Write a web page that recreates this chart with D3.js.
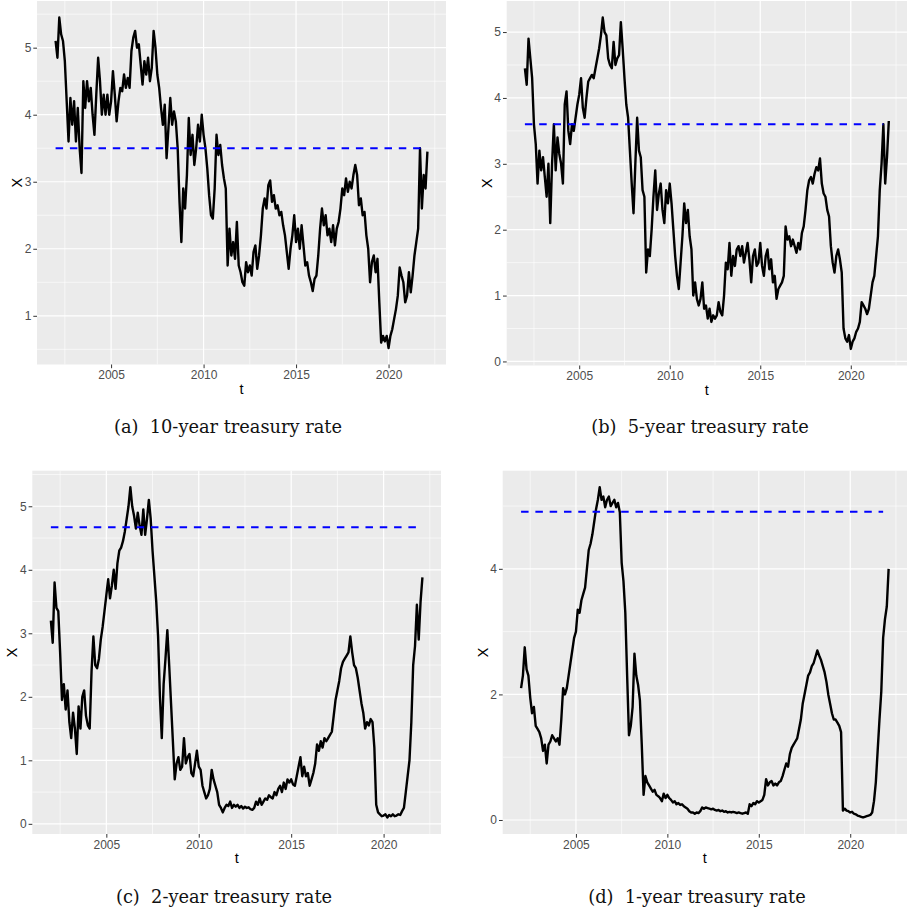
<!DOCTYPE html>
<html>
<head>
<meta charset="utf-8">
<script src="https://cdn.jsdelivr.net/npm/d3@7"></script>
<style>
  body { margin: 0; background: #fff; }
  .tick-label { font-family: "Liberation Sans", Arial, sans-serif; font-size: 12px; fill: #4d4d4d; }
  .axis-title { font-family: "Liberation Sans", Arial, sans-serif; font-size: 14.5px; fill: #000; }
  .caption { font-family: "DejaVu Serif", "Liberation Serif", serif; font-size: 17.8px; fill: #111; white-space: pre; }
</style>
</head>
<body>
<script>
// observation times: one sample every 0.1 year, 2002.0 .. 2022.1
const times = d3.range(0, 202).map(i => 2002 + i / 10);

const xTicks = [2005, 2010, 2015, 2020];
const xMinor = [2002.5, 2007.5, 2012.5, 2017.5, 2022.5];

const rate10 = [
  5.1, 4.85, 5.45, 5.2, 5.1, 4.8, 4.2, 3.6, 4.25, 3.85,
  4.2, 3.6, 4.1, 3.5, 3.13, 4.5, 4.1, 4.5, 4.2, 4.4,
  4.0, 3.7, 4.3, 4.85, 4.5, 4.0, 4.3, 4.0, 4.3, 4.0,
  4.2, 4.65, 4.3, 3.9, 4.2, 4.4, 4.35, 4.6, 4.4, 4.55,
  4.4, 4.95, 5.15, 5.25, 5.0, 5.05, 4.75, 4.45, 4.8, 4.6,
  4.85, 4.5, 4.7, 5.25, 5.0, 4.6, 4.4, 4.1, 3.85, 4.15,
  3.35, 3.8, 4.25, 3.85, 4.05, 3.9, 3.5, 2.7, 2.1, 2.9,
  2.6, 3.1, 3.95, 3.4, 3.7, 3.25, 3.5, 3.85, 3.6, 4.0,
  3.7, 3.5, 3.2, 2.8, 2.5, 2.45, 2.9, 3.7, 3.4, 3.55,
  3.25, 3.05, 2.9, 1.75, 2.3, 1.9, 2.1, 1.85, 2.4, 1.75,
  1.65, 1.5, 1.45, 1.8, 1.65, 1.75, 1.6, 1.95, 2.05, 1.7,
  1.9, 2.2, 2.6, 2.75, 2.6, 2.95, 3.02, 2.7, 2.8, 2.6,
  2.65, 2.5, 2.55, 2.35, 2.2, 1.95, 1.7, 2.0, 2.2, 2.5,
  2.1, 2.3, 2.0, 2.35, 2.05, 1.75, 1.8, 1.6, 1.5, 1.37,
  1.55, 1.6, 1.9, 2.3, 2.6, 2.35, 2.5, 2.2, 2.3, 2.1,
  2.35, 2.05, 2.3, 2.4, 2.6, 2.9, 2.8, 3.05, 2.85, 3.0,
  2.9, 3.1, 3.25, 3.1, 2.65, 2.75, 2.5, 2.55, 2.2, 2.0,
  1.5, 1.8, 1.9, 1.65, 1.85, 1.2, 0.6, 0.7, 0.62, 0.7,
  0.52, 0.7, 0.8, 0.95, 1.1, 1.3, 1.72, 1.6, 1.5, 1.2,
  1.3, 1.65, 1.35, 1.6, 1.9, 2.1, 2.3, 3.5, 2.6, 3.1,
  2.9, 3.45
];

const rate5 = [
  4.45, 4.2, 4.9, 4.6, 4.3, 3.6, 3.3, 2.7, 3.2, 2.9,
  3.1, 2.8, 2.5, 3.0, 2.1, 3.0, 3.6, 2.9, 3.4, 3.15,
  3.0, 2.7, 3.9, 4.1, 3.5, 3.3, 3.6, 3.5, 3.7, 3.9,
  4.05, 4.3, 3.85, 3.7, 4.0, 4.25, 4.3, 4.35, 4.3, 4.45,
  4.6, 4.75, 4.95, 5.22, 5.0, 4.95, 4.6, 4.5, 4.45, 4.85,
  4.5, 4.6, 4.65, 5.15, 4.75, 4.3, 3.9, 3.7, 3.2, 2.7,
  2.25, 3.0, 3.7, 3.2, 3.1, 2.6, 2.5, 1.35, 1.7, 1.6,
  2.0, 2.5, 2.9, 2.3, 2.55, 2.7, 2.3, 2.1, 2.6, 2.4,
  2.7, 2.4, 2.0, 1.6, 1.3, 1.1, 1.5, 1.9, 2.4, 2.1,
  2.3, 1.9, 1.7, 1.0, 1.2, 0.95, 0.85, 0.95, 1.2, 0.8,
  0.85, 0.65, 0.8, 0.6, 0.7, 0.65, 0.7, 0.9, 0.75, 0.7,
  1.0, 1.5, 1.4, 1.8, 1.3, 1.6, 1.45, 1.7, 1.75, 1.6,
  1.75, 1.5, 1.65, 1.8, 1.55, 1.2, 1.6, 1.7, 1.45, 1.5,
  1.8, 1.45, 1.3, 1.6, 1.7, 1.4, 1.55, 1.2, 1.3, 0.95,
  1.1, 1.15, 1.2, 1.3, 2.05, 1.85, 1.9, 1.75, 1.85, 1.75,
  1.65, 1.8, 1.7, 1.95, 2.05, 2.3, 2.6, 2.75, 2.8, 2.7,
  2.85, 2.95, 2.9, 3.08, 2.7, 2.55, 2.5, 2.3, 2.2, 1.75,
  1.5, 1.35, 1.6, 1.7, 1.55, 1.35, 0.5, 0.35, 0.3, 0.4,
  0.19, 0.3, 0.35, 0.45, 0.5, 0.6, 0.9, 0.85, 0.8, 0.72,
  0.8, 1.0, 1.2, 1.3, 1.6, 1.9, 2.6, 3.0, 3.6, 2.7,
  3.1, 3.65
];

const rate2 = [
  3.2, 2.85, 3.8, 3.4, 3.35, 2.7, 1.95, 2.2, 1.8, 2.1,
  1.6, 1.35, 1.75, 1.5, 1.1, 1.85, 1.5, 2.0, 2.1, 1.7,
  1.55, 1.5, 2.4, 2.95, 2.5, 2.45, 2.6, 2.9, 3.1, 3.35,
  3.6, 3.85, 3.55, 3.75, 4.0, 3.7, 4.1, 4.3, 4.35, 4.45,
  4.6, 4.8, 5.0, 5.3, 5.0, 4.85, 4.65, 4.9, 4.7, 4.55,
  4.95, 4.55, 4.8, 5.1, 4.8, 4.3, 3.9, 3.5, 2.95, 2.0,
  1.35, 2.2, 2.6, 3.05, 2.5, 1.9, 1.3, 0.7, 0.95, 1.05,
  0.85, 0.9, 1.35, 0.95, 1.05, 1.1, 0.8, 0.75, 0.95, 1.15,
  0.9, 0.85, 0.6, 0.5, 0.4, 0.45, 0.55, 0.85, 0.7, 0.6,
  0.5, 0.3, 0.25, 0.18, 0.25, 0.3, 0.28, 0.35, 0.25, 0.3,
  0.27, 0.3, 0.25, 0.28, 0.24, 0.27, 0.25, 0.26, 0.23, 0.22,
  0.25, 0.35, 0.3, 0.4, 0.3, 0.35, 0.4, 0.38, 0.45, 0.42,
  0.4, 0.5, 0.45, 0.55, 0.6, 0.5, 0.65, 0.55, 0.7, 0.65,
  0.7, 0.62, 0.6, 0.75, 0.9, 1.05, 0.75, 0.9, 0.75, 0.8,
  0.6, 0.7, 0.8, 0.95, 1.25, 1.15, 1.3, 1.2, 1.35, 1.3,
  1.35, 1.4, 1.45, 1.7, 1.95, 2.1, 2.25, 2.45, 2.55, 2.6,
  2.65, 2.7, 2.95, 2.7, 2.5, 2.45, 2.3, 2.1, 1.9, 1.75,
  1.5, 1.6, 1.55, 1.65, 1.6, 1.2, 0.3, 0.18, 0.15, 0.12,
  0.13, 0.15, 0.1, 0.14, 0.12, 0.15, 0.12, 0.13, 0.15, 0.14,
  0.2, 0.25, 0.5, 0.75, 1.0, 1.6, 2.5, 2.8, 3.45, 2.9,
  3.5, 3.88
];

const rate1 = [
  2.1, 2.3, 2.75, 2.4, 2.3, 1.95, 1.7, 1.8, 1.5, 1.45,
  1.4, 1.3, 1.1, 1.2, 0.9, 1.2, 1.25, 1.35, 1.3, 1.25,
  1.3, 1.2, 1.6, 2.1, 2.0, 2.1, 2.3, 2.5, 2.7, 2.9,
  3.0, 3.35, 3.3, 3.5, 3.6, 3.7, 4.0, 4.3, 4.4, 4.55,
  4.75, 4.95, 5.1, 5.3, 5.1, 5.15, 4.98, 5.1, 5.15, 5.0,
  5.05, 5.1, 4.98, 5.05, 4.9, 4.1, 3.8, 3.3, 2.3, 1.35,
  1.5, 1.8, 2.65, 2.3, 2.15, 1.9, 1.2, 0.4, 0.7, 0.6,
  0.55, 0.5, 0.45, 0.48, 0.4, 0.38, 0.35, 0.3, 0.42, 0.35,
  0.4, 0.35, 0.32, 0.28, 0.3, 0.25, 0.27, 0.24, 0.25, 0.22,
  0.2, 0.18, 0.14, 0.12, 0.12, 0.1, 0.12, 0.11, 0.14, 0.2,
  0.18, 0.2, 0.19, 0.18, 0.17, 0.18, 0.16, 0.15, 0.16, 0.14,
  0.15, 0.13, 0.14, 0.12, 0.13, 0.12, 0.13, 0.12, 0.11, 0.12,
  0.11, 0.1, 0.11, 0.12, 0.1, 0.25, 0.22, 0.27, 0.25, 0.3,
  0.28, 0.3, 0.32, 0.4, 0.65, 0.55, 0.6, 0.62, 0.55, 0.58,
  0.55, 0.6, 0.62, 0.7, 0.8, 0.9, 0.85, 1.05, 1.15, 1.2,
  1.25, 1.3, 1.45, 1.6, 1.85, 2.0, 2.15, 2.3, 2.35, 2.45,
  2.5, 2.6, 2.7, 2.62, 2.55, 2.45, 2.35, 2.2, 2.0, 1.85,
  1.7, 1.6, 1.6, 1.55, 1.5, 1.4, 0.15, 0.18, 0.15, 0.14,
  0.12, 0.13, 0.1, 0.09, 0.07, 0.06, 0.05, 0.04, 0.05, 0.06,
  0.07, 0.08, 0.12, 0.3, 0.6, 1.1, 1.6, 2.05, 2.9, 3.2,
  3.4, 4.0
];

const captions = ["(a)  10-year treasury rate", "(b)  5-year treasury rate",
                  "(c)  2-year treasury rate", "(d)  1-year treasury rate"];
const thresholds = [3.5, 3.6, 4.67, 4.91];
const thresholdSpan = [2002, 2021.8];
const yTicks = [[1, 2, 3, 4, 5], [0, 1, 2, 3, 4, 5], [0, 1, 2, 3, 4, 5], [0, 2, 4]];
const yMinor = [[0.5, 1.5, 2.5, 3.5, 4.5, 5.5], [0.5, 1.5, 2.5, 3.5, 4.5], [0.5, 1.5, 2.5, 3.5, 4.5, 5.5], [1, 3, 5]];

const width = 908;
const height = 914;

const svg = d3.select("body")
  .append("svg")
  .attr("width", width)
  .attr("height", height);

// panel boxes: left, top, right, bottom and caption position
const panels = [
  { left: 37, top: 1, right: 446, bottom: 364.5, capX: 228, capY: 433 },
  { left: 506.7, top: 1, right: 907, bottom: 365.5, capX: 700, capY: 433 },
  { left: 32.3, top: 470.7, right: 441, bottom: 834, capX: 224, capY: 903 },
  { left: 502.7, top: 470.7, right: 907, bottom: 834, capX: 697, capY: 903 }
];
const series = [rate10, rate5, rate2, rate1];

function expand(ext, f) {
  const pad = (ext[1] - ext[0]) * f;
  return [ext[0] - pad, ext[1] + pad];
}

panels.forEach((p, k) => {
  const values = series[k];
  const pts = times.map((t, i) => [t, values[i]]);

  const x = d3.scaleLinear().domain(expand(d3.extent(times), 0.05)).range([p.left, p.right]);
  const y = d3.scaleLinear().domain(expand(d3.extent(values), 0.05)).range([p.bottom, p.top]);

  const g = svg.append("g");

  g.append("rect")
    .attr("x", p.left).attr("y", p.top)
    .attr("width", p.right - p.left).attr("height", p.bottom - p.top)
    .attr("fill", "#ebebeb");

  // minor grid
  g.selectAll(".minor-x").data(xMinor.filter(d => x(d) < p.right)).enter()
    .append("line")
    .attr("x1", d => x(d)).attr("x2", d => x(d))
    .attr("y1", p.top).attr("y2", p.bottom)
    .attr("stroke", "#fff").attr("stroke-width", 0.6);
  g.selectAll(".minor-y").data(yMinor[k].filter(d => y(d) > p.top)).enter()
    .append("line")
    .attr("x1", p.left).attr("x2", p.right)
    .attr("y1", d => y(d)).attr("y2", d => y(d))
    .attr("stroke", "#fff").attr("stroke-width", 0.6);

  // major grid
  g.selectAll(".major-x").data(xTicks).enter()
    .append("line")
    .attr("x1", d => x(d)).attr("x2", d => x(d))
    .attr("y1", p.top).attr("y2", p.bottom)
    .attr("stroke", "#fff").attr("stroke-width", 1.2);
  g.selectAll(".major-y").data(yTicks[k]).enter()
    .append("line")
    .attr("x1", p.left).attr("x2", p.right)
    .attr("y1", d => y(d)).attr("y2", d => y(d))
    .attr("stroke", "#fff").attr("stroke-width", 1.2);

  // the series
  g.append("path")
    .datum(pts)
    .attr("d", d3.line().x(d => x(d[0])).y(d => y(d[1])))
    .attr("fill", "none")
    .attr("stroke", "#000")
    .attr("stroke-width", 2.4)
    .attr("stroke-linejoin", "round");

  // threshold line
  g.append("line")
    .attr("x1", x(thresholdSpan[0])).attr("x2", x(thresholdSpan[1]))
    .attr("y1", y(thresholds[k])).attr("y2", y(thresholds[k]))
    .attr("stroke", "#0000ff")
    .attr("stroke-width", 2)
    .attr("stroke-dasharray", "7.5,6.8");

  // axes
  const xAxis = d3.axisBottom(x).tickValues(xTicks).tickSize(3.7).tickPadding(2.5).tickFormat(d3.format("d"));
  const ax = g.append("g").attr("transform", `translate(0,${p.bottom})`).call(xAxis);
  const yAxis = d3.axisLeft(y).tickValues(yTicks[k]).tickSize(3.7).tickPadding(2).tickFormat(d3.format("d"));
  const ay = g.append("g").attr("transform", `translate(${p.left},0)`).call(yAxis);

  [ax, ay].forEach(a => {
    a.select(".domain").remove();
    a.selectAll(".tick line").attr("stroke", "#333").attr("stroke-width", 1);
    a.selectAll(".tick text").attr("class", "tick-label").attr("fill", null);
    a.attr("font-size", null).attr("font-family", null);
  });

  g.append("text")
    .attr("class", "axis-title")
    .attr("x", (p.left + p.right) / 2)
    .attr("y", p.bottom + 29)
    .attr("text-anchor", "middle")
    .text("t");

  g.append("text")
    .attr("class", "axis-title")
    .attr("transform", `translate(${p.left - 15},${(p.top + p.bottom) / 2}) rotate(-90)`)
    .attr("text-anchor", "middle")
    .text("X");

  svg.append("text")
    .attr("class", "caption")
    .attr("x", p.capX)
    .attr("y", p.capY)
    .attr("text-anchor", "middle")
    .text(captions[k]);
});
</script>
</body>
</html>
